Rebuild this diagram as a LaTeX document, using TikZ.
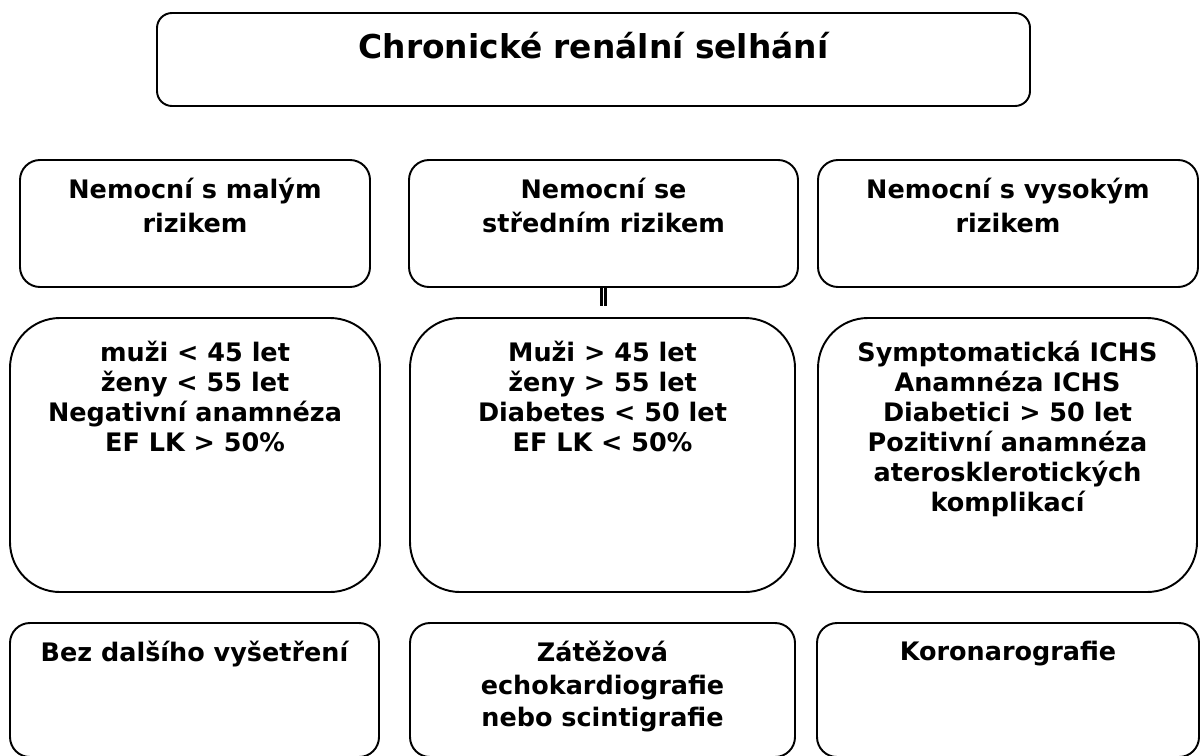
\documentclass[tikz,border=0pt]{standalone}
\usepackage{fontspec}
\setmainfont{DejaVu Sans}
\usetikzlibrary{positioning}

\begin{document}
\begin{tikzpicture}[box/.style={draw,line width=1.1pt,rounded corners=0.4cm,inner sep=0pt},
	bigbox/.style={box,rounded corners=1cm},
	txt/.style={inner sep=0pt,align=center,font=\bfseries\fontsize{14.5}{19.4}\selectfont},
	listtxt/.style={txt,font=\bfseries\fontsize{14.5}{17}\selectfont}]
	\useasboundingbox (0,0) rectangle (24,-15.1);
	% hlavicka
	\node[box,rounded corners=0.3cm,minimum width=17.46cm,minimum height=1.86cm] (crs) at (11.87,-1.19) {};
	\node[txt,font=\bfseries\fontsize{18.7}{22}\selectfont,below=0.4cm of crs.north] (crstxt) {Chronické renální selhání};
	% skupiny rizika
	\node[box,minimum width=7cm,minimum height=2.54cm] (lowrisk) at (3.9,-4.47) {};
	\node[box,minimum width=7.78cm,minimum height=2.54cm] (midrisk) at (12.07,-4.47) {};
	\node[box,minimum width=7.6cm,minimum height=2.54cm] (highrisk) at (20.16,-4.47) {};
	\node[txt,below=0.38cm of lowrisk.north] {Nemocní s malým\\rizikem};
	\node[txt,below=0.38cm of midrisk.north] {Nemocní se\\středním rizikem};
	\node[txt,below=0.38cm of highrisk.north] {Nemocní s vysokým\\rizikem};
	% kriteria
	\node[bigbox,minimum width=7.4cm,minimum height=5.48cm] (lowcrit) at (3.9,-9.1) {};
	\node[bigbox,minimum width=7.7cm,minimum height=5.48cm] (midcrit) at (12.05,-9.1) {};
	\node[bigbox,minimum width=7.58cm,minimum height=5.48cm] (highcrit) at (20.15,-9.1) {};
	\node[listtxt,below=0.48cm of lowcrit.north] {muži < 45 let\\ženy < 55 let\\Negativní anamnéza\\EF LK > 50\%};
	\node[listtxt,below=0.48cm of midcrit.north] {Muži > 45 let\\ženy > 55 let\\Diabetes < 50 let\\EF LK < 50\%};
	\node[listtxt,below=0.48cm of highcrit.north] {Symptomatická ICHS\\Anamnéza ICHS\\Diabetici > 50 let\\Pozitivní anamnéza\\aterosklerotických\\komplikací};
	% vysetreni
	\node[box,minimum width=7.38cm,minimum height=2.68cm] (lowexam) at (3.89,-13.8) {};
	\node[box,minimum width=7.7cm,minimum height=2.68cm] (midexam) at (12.05,-13.8) {};
	\node[box,minimum width=7.64cm,minimum height=2.68cm] (highexam) at (20.16,-13.8) {};
	\node[txt,below=0.38cm of lowexam.north] {Bez dalšího vyšetření};
	\node[txt,font=\bfseries\fontsize{14.5}{18.5}\selectfont,below=0.38cm of midexam.north] {Zátěžová\\echokardiografie\\nebo scintigrafie};
	\node[txt,below=0.38cm of highexam.north] {Koronarografie};
	% spojka
	\coordinate[below=0.36cm of midrisk.south] (split);
	\draw[double,line width=1.4pt,double distance=0.8pt] (midrisk.south) -- (split);
\end{tikzpicture}
\end{document}
